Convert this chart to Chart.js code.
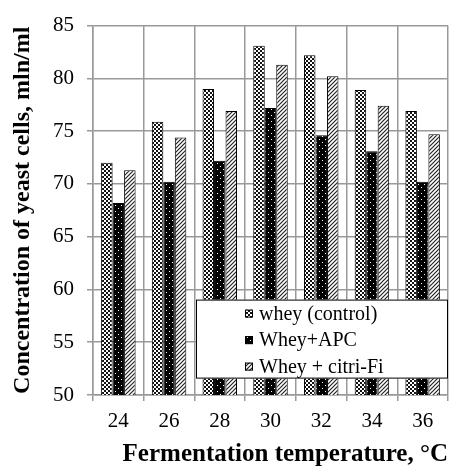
<!DOCTYPE html>
<html lang="en">
<head>
    <meta charset="UTF-8">
    <title>Yeast cells vs fermentation temperature</title>
    <script src="https://cdn.jsdelivr.net/npm/chart.js"></script>
    <style>
        html, body { margin: 0; padding: 0; background: #fff; }
        .chart-box { width: 450px; height: 472px; position: relative; }
    </style>
</head>
<body>
    <div class="chart-box">
        <canvas id="yeastChart"></canvas>
    </div>

    <script>
        // temperatures (°C)
        const temperatures = ['24', '26', '28', '30', '32', '34', '36'];
        // yeast cell concentration, mln/ml
        const wheyControl = [72.0, 75.9, 79.0, 83.1, 82.2, 78.9, 76.9];
        const wheyApc = [68.2, 70.2, 72.2, 77.2, 74.6, 73.1, 70.2];
        const wheyCitri = [71.3, 74.4, 76.9, 81.3, 80.2, 77.4, 74.7];
        const seriesNames = ['whey (control)', 'Whey+APC', 'Whey + citri-Fi'];
        const yTicks = [50, 55, 60, 65, 70, 75, 80, 85];

        const serif = "'Liberation Serif', 'Times New Roman', serif";

        // fill patterns like the original black & white chart
        function makePattern(size, draw) {
            const c = document.createElement('canvas');
            c.width = size;
            c.height = size;
            const g = c.getContext('2d');
            draw(g, size);
            return g.createPattern(c, 'repeat');
        }

        const checkPattern = makePattern(4, (g) => {
            g.fillStyle = '#111';
            g.fillRect(0, 0, 4, 4);
            g.fillStyle = '#fff';
            g.fillRect(0, 0, 2, 2);
            g.fillRect(2, 2, 2, 2);
        });
        const dotPattern = makePattern(6, (g) => {
            g.fillStyle = '#000';
            g.fillRect(0, 0, 6, 6);
            g.fillStyle = '#fff';
            g.fillRect(1, 1, 1, 1);
            g.fillRect(4, 4, 1, 1);
        });
        const hatchPattern = makePattern(4, (g) => {
            g.fillStyle = '#fff';
            g.fillRect(0, 0, 4, 4);
            g.strokeStyle = '#222';
            g.lineWidth = 1.2;
            g.beginPath();
            g.moveTo(-1, 5); g.lineTo(5, -1);
            g.moveTo(-1, 1); g.lineTo(1, -1);
            g.moveTo(3, 5); g.lineTo(5, 3);
            g.stroke();
        });
        const fills = [checkPattern, dotPattern, hatchPattern];

        // legend box drawn inside the plot area
        const boxLegend = {
            id: 'boxLegend',
            afterDraw(chart) {
                const ctx = chart.ctx;
                const a = chart.chartArea;
                const x = a.left + 103;
                const y = a.top + 274;
                const w = a.right - x;
                const h = 79;
                ctx.save();
                ctx.fillStyle = '#fff';
                ctx.fillRect(x, y, w, h);
                ctx.strokeStyle = '#000';
                ctx.lineWidth = 1;
                ctx.strokeRect(x + 0.5, y + 0.5, w - 1, h - 1);
                ctx.font = '20px ' + serif;
                ctx.textBaseline = 'middle';
                chart.data.datasets.forEach((ds, i) => {
                    const cy = y + 14 + i * 26.5;
                    ctx.fillStyle = ds.backgroundColor;
                    ctx.fillRect(x + 49, cy - 4, 8, 8);
                    ctx.strokeStyle = '#000';
                    ctx.strokeRect(x + 49.5, cy - 3.5, 7, 7);
                    ctx.fillStyle = '#000';
                    ctx.fillText(ds.label, x + 63, cy + 1);
                });
                ctx.restore();
            }
        };

        new Chart(document.getElementById('yeastChart'), {
            type: 'bar',
            data: {
                labels: temperatures,
                datasets: [wheyControl, wheyApc, wheyCitri].map((vals, i) => ({
                    label: seriesNames[i],
                    data: vals,
                    backgroundColor: fills[i],
                    borderColor: '#000',
                    borderWidth: 1,
                    categoryPercentage: 0.68,
                    barPercentage: 1.0
                }))
            },
            options: {
                responsive: true,
                maintainAspectRatio: false,
                animation: false,
                layout: { padding: { top: 23, right: 2, left: 0, bottom: 0 } },
                plugins: {
                    legend: { display: false },
                    tooltip: { enabled: false }
                },
                scales: {
                    x: {
                        grid: { color: '#999', lineWidth: 1.5, tickLength: 6, offset: true },
                        border: { color: '#999', width: 1.5 },
                        ticks: { color: '#000', font: { family: serif, size: 21 }, padding: 8 },
                        title: {
                            display: true,
                            align: 'end',
                            text: 'Fermentation temperature, °C',
                            color: '#000',
                            font: { family: serif, size: 25, weight: 'bold' },
                            padding: { top: 0, bottom: 2 }
                        },
                        afterFit(scale) { scale.height = 77; }
                    },
                    y: {
                        min: 50,
                        max: 85,
                        afterBuildTicks(scale) {
                            scale.ticks = yTicks.map(v => ({ value: v }));
                        },
                        grid: { color: '#999', lineWidth: 1.5, tickLength: 6 },
                        border: { color: '#999', width: 1.5 },
                        ticks: { color: '#000', font: { family: serif, size: 21 }, padding: 13 },
                        title: {
                            display: true,
                            text: 'Concentration of yeast cells, mln/ml',
                            color: '#000',
                            font: { family: serif, size: 24, weight: 'bold' },
                            padding: { top: 8, bottom: 0 }
                        },
                        afterFit(scale) { scale.width = 93; }
                    }
                }
            },
            plugins: [boxLegend]
        });
    </script>
</body>
</html>
